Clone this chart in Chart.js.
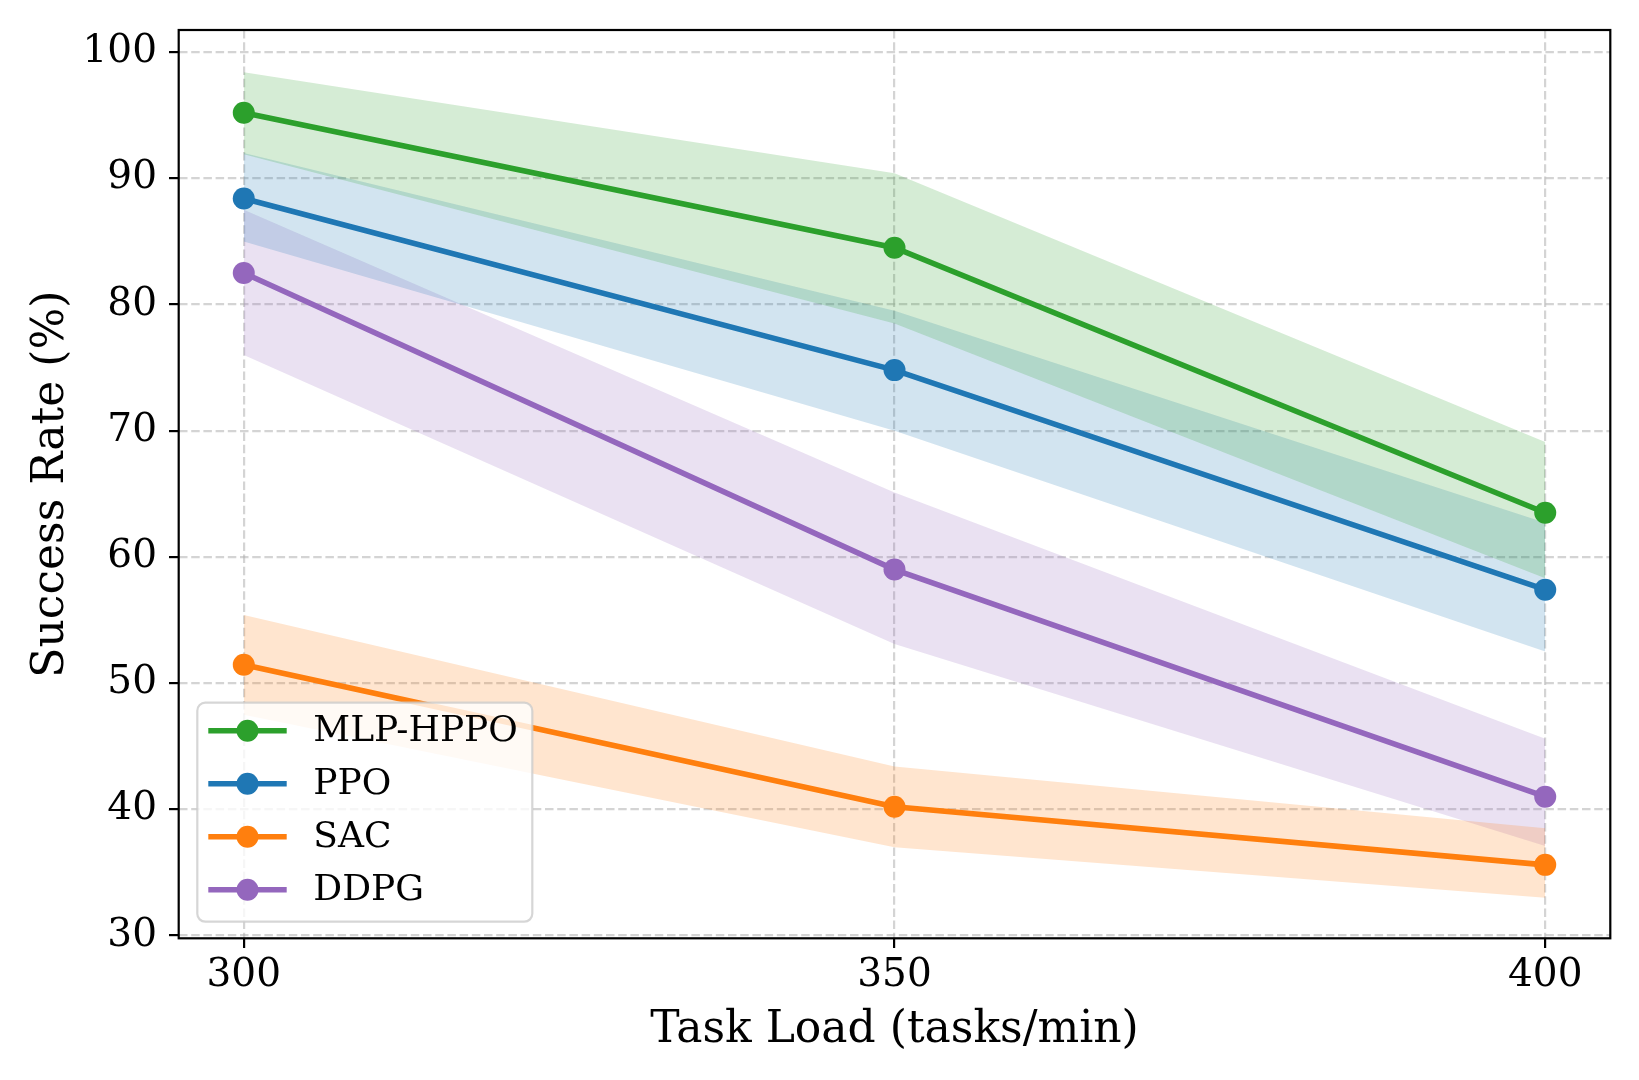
<!DOCTYPE html>
<html>
<head>
<meta charset="utf-8">
<script src="https://cdn.jsdelivr.net/npm/chart.js@4.4.1/dist/chart.umd.min.js"></script>
<style>
  html, body { margin: 0; padding: 0; background: #fff; }
</style>
</head>
<body>
<canvas id="chart" width="1639" height="1080"></canvas>
<script>
// values
const loads = [300, 350, 400];
const yTicks = [30, 40, 50, 60, 70, 80, 90, 100];

const mlpHppo = [95.2, 84.5, 63.5];
const mlpHppoUpper = [98.4, 90.4, 69.1];
const mlpHppoLower = [91.9, 78.5, 58.3];

const ppo = [88.4, 74.8, 57.4];
const ppoUpper = [92.0, 79.5, 62.7];
const ppoLower = [85.0, 70.0, 52.5];

const sac = [51.45, 40.2, 35.6];
const sacUpper = [55.4, 43.4, 38.5];
const sacLower = [47.5, 37.0, 33.0];

const ddpg = [82.5, 59.0, 41.0];
const ddpgUpper = [87.5, 65.1, 45.6];
const ddpgLower = [76.0, 53.1, 37.1];

const FONT = "'DejaVu Serif', serif";

const series = [
	{ label: "MLP-HPPO", rgb: "44, 160, 44", mean: mlpHppo, upper: mlpHppoUpper, lower: mlpHppoLower },
	{ label: "PPO", rgb: "31, 119, 180", mean: ppo, upper: ppoUpper, lower: ppoLower },
	{ label: "SAC", rgb: "255, 127, 14", mean: sac, upper: sacUpper, lower: sacLower },
	{ label: "DDPG", rgb: "148, 103, 189", mean: ddpg, upper: ddpgUpper, lower: ddpgLower },
];

const toPoints = (values) => values.map((y, i) => ({ x: loads[i], y }));

const lineSets = series.map((s) => ({
	label: s.label,
	data: toPoints(s.mean),
	borderColor: `rgb(${s.rgb})`,
	backgroundColor: `rgb(${s.rgb})`,
	borderWidth: 5.6,
	pointRadius: 11,
	pointBorderWidth: 0,
	pointBackgroundColor: `rgb(${s.rgb})`,
	tension: 0,
	fill: false,
	order: 0,
}));

const bandSets = [];
series.forEach((s) => {
	bandSets.push({
		label: s.label + " upper",
		data: toPoints(s.upper),
		borderWidth: 0,
		pointRadius: 0,
		fill: false,
		tension: 0,
		order: 1,
	});
	bandSets.push({
		label: s.label + " lower",
		data: toPoints(s.lower),
		borderWidth: 0,
		pointRadius: 0,
		fill: "-1",
		backgroundColor: `rgba(${s.rgb}, 0.2)`,
		tension: 0,
		order: 1,
	});
});

// frame + legend drawn on top of the plot
const frameAndLegend = {
	id: "frameAndLegend",
	afterDatasetsDraw(chart) {
		const ctx = chart.ctx;
		const { left, top, right, bottom } = chart.chartArea;
		ctx.save();
		ctx.strokeStyle = "#000";
		ctx.lineWidth = 2.2;
		ctx.strokeRect(left, top, right - left, bottom - top);

		const w = 335, h = 219, r = 8;
		const x0 = left + 18.6;
		const y0 = bottom - 16.6 - h;
		ctx.beginPath();
		ctx.moveTo(x0 + r, y0);
		ctx.lineTo(x0 + w - r, y0);
		ctx.arcTo(x0 + w, y0, x0 + w, y0 + r, r);
		ctx.lineTo(x0 + w, y0 + h - r);
		ctx.arcTo(x0 + w, y0 + h, x0 + w - r, y0 + h, r);
		ctx.lineTo(x0 + r, y0 + h);
		ctx.arcTo(x0, y0 + h, x0, y0 + h - r, r);
		ctx.lineTo(x0, y0 + r);
		ctx.arcTo(x0, y0, x0 + r, y0, r);
		ctx.closePath();
		ctx.fillStyle = "rgba(255, 255, 255, 0.8)";
		ctx.fill();
		ctx.strokeStyle = "rgba(204, 204, 204, 0.8)";
		ctx.lineWidth = 2.2;
		ctx.stroke();

		ctx.font = `36px ${FONT}`;
		ctx.textBaseline = "middle";
		ctx.textAlign = "left";
		series.forEach((s, i) => {
			const cy = y0 + 28 + i * 53;
			ctx.strokeStyle = `rgb(${s.rgb})`;
			ctx.lineWidth = 5.6;
			ctx.beginPath();
			ctx.moveTo(x0 + 11, cy);
			ctx.lineTo(x0 + 89.4, cy);
			ctx.stroke();
			ctx.fillStyle = `rgb(${s.rgb})`;
			ctx.beginPath();
			ctx.arc(x0 + 50.2, cy, 11, 0, Math.PI * 2);
			ctx.fill();
			ctx.fillStyle = "#000";
			ctx.fillText(s.label, x0 + 116, cy + 1);
		});
		ctx.restore();
	},
};

const gridStyle = {
	color: "rgba(176, 176, 176, 0.55)",
	lineWidth: 2.2,
	tickLength: 9.7,
	tickColor: "#000",
	tickWidth: 2.2,
	tickBorderDash: [],
};

const options = {
	responsive: false,
	animation: false,
	devicePixelRatio: 1,
	layout: {
		padding: { top: 30, right: 28.7, left: 0, bottom: 0 },
	},
	plugins: {
		legend: { display: false },
		tooltip: { enabled: false },
	},
	scales: {
		x: {
			type: "linear",
			min: 295,
			max: 405,
			afterBuildTicks: (scale) => {
				scale.ticks = loads.map((value) => ({ value }));
			},
			afterFit: (scale) => {
				scale.height = 141.7;
				scale.paddingLeft = 0;
				scale.paddingRight = 0;
			},
			grid: gridStyle,
			border: { display: false, dash: [8.5, 3.7] },
			ticks: {
				color: "#000",
				font: { family: FONT, size: 39 },
				padding: 4,
				maxRotation: 0,
			},
			title: {
				display: true,
				text: "Task Load (tasks/min)",
				color: "#000",
				font: { family: FONT, size: 44 },
				padding: { top: 0, bottom: 23 },
			},
		},
		y: {
			min: 29.78,
			max: 101.75,
			afterBuildTicks: (scale) => {
				scale.ticks = yTicks.map((value) => ({ value }));
			},
			afterFit: (scale) => {
				scale.width = 178.7;
				scale.paddingTop = 0;
				scale.paddingBottom = 0;
			},
			grid: gridStyle,
			border: { display: false, dash: [8.5, 3.7] },
			ticks: {
				color: "#000",
				font: { family: FONT, size: 39 },
				padding: 12,
			},
			title: {
				display: true,
				text: "Success Rate (%)",
				color: "#000",
				font: { family: FONT, size: 44 },
				padding: { top: 25, bottom: 0 },
			},
		},
	},
};

const config = {
	type: "line",
	data: { datasets: [...lineSets, ...bandSets] },
	options,
	plugins: [frameAndLegend],
};

new Chart(document.querySelector("#chart"), config);
</script>
</body>
</html>
